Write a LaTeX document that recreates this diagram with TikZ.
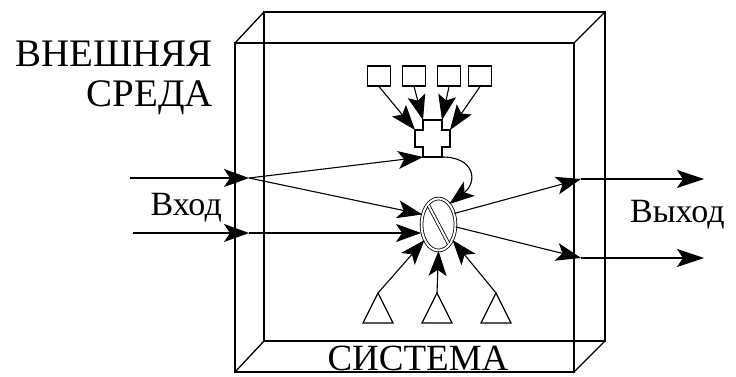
\documentclass[tikz,border=0pt]{standalone}
\usepackage{fontspec}
\setmainfont{Liberation Serif}
\usetikzlibrary{arrows.meta,shapes.geometric}
\begin{document}
\begin{tikzpicture}[x=1pt,y=-1pt,
  boxline/.style={line width=1.3pt},
  arr/.style={line width=1.1pt,-{Stealth[length=25pt,width=18pt,inset=6pt]}},
  longarr/.style={line width=1.1pt,-{Stealth[length=27pt,width=18pt,inset=6pt]}},
  bigarr/.style={line width=1.1pt,-{Stealth[length=25pt,width=18pt,inset=5pt]}},
  sq/.style={draw,line width=1.2pt,rectangle,minimum width=23pt,minimum height=20pt,inner sep=0pt},
  shp/.style={draw,line width=1.2pt},
  lbl/.style={inner sep=0pt}]
\useasboundingbox (0,0) rectangle (736,377);
% box
\coordinate (f1) at (235,43); \coordinate (f2) at (574,43);
\coordinate (f3) at (574,372); \coordinate (f4) at (235,372);
\coordinate (b1) at (264,12); \coordinate (b2) at (605,12);
\coordinate (b3) at (605,341); \coordinate (b4) at (264,341);
\draw[boxline] (f1) -- (f2) -- (f3) -- (f4) -- cycle;
\draw[boxline] (b1) -- (b2) -- (b3) -- (b4) -- cycle;
\draw[boxline] (f1) -- (b1) (f2) -- (b2) (f3) -- (b3) (f4) -- (b4);
% texts
\node[lbl,anchor=base east,font=\fontsize{39}{42}\selectfont] (env1) at (213,67) {ВНЕШНЯЯ};
\node[lbl,anchor=base east,font=\fontsize{39}{42}\selectfont] (env2) at (213,107) {СРЕДА};
\node[lbl,anchor=base,font=\fontsize{37}{40}\selectfont] (sys) at (418,370) {СИСТЕМА};
\node[lbl,anchor=base east,font=\fontsize{34}{38}\selectfont] (inl) at (222,215) {Вход};
\node[lbl,anchor=base west,font=\fontsize{34}{38}\selectfont] (outl) at (630,222) {Выход};
% process ellipse
\node[ellipse,draw,line width=0.8pt,double,double distance=2pt,minimum width=34pt,minimum height=52pt,inner sep=0pt] (proc) at (438.5,224.5) {};
\draw[line width=0.8pt,double,double distance=2pt] ([shift={(-10,-19)}]proc.center) -- ([shift={(10,19)}]proc.center);
% squares
\node[sq] (s1) at (379,76) {};
\node[sq] (s2) at (414,76) {};
\node[sq] (s3) at (449,76) {};
\node[sq] (s4) at (480,76) {};
% cross
\coordinate (cr) at (432.5,138.5);
\draw[shp] (423,120) -- (442,120) -- (442,130) -- (450,130) -- (450,147) -- (442,147) -- (442,157) -- (423,157) -- (423,147) -- (415,147) -- (415,130) -- (423,130) -- cycle;
\coordinate (c1) at (415,130);
\coordinate (c2) at (423,120);
\coordinate (c3) at (442,120);
\coordinate (c4) at (450,130);
\coordinate (cbl) at (423,157);
\coordinate (cbr) at (440,157);
\draw[bigarr] (s1.south) -- (c1);
\draw[bigarr] (s2.south) -- (c2);
\draw[bigarr] (s3.south) -- (c3);
\draw[bigarr] (s4.south) -- (c4);
% triangles
\coordinate (t1) at (378,293);
\coordinate (t2) at (437,293);
\coordinate (t3) at (496,293);
\foreach \t in {t1,t2,t3}{
  \draw[shp,line join=miter] (\t) -- ++(-15,30) -- ++(30,0) -- cycle;
}
\draw[arr] (t1) -- (proc.228);
\draw[arr] (t2) -- (proc.south);
\draw[arr] (t3) -- (proc.-48);
% inputs
\coordinate (in1s) at (130,178);
\coordinate (in1j) at (249,178);
\coordinate (in2s) at (133,233);
\coordinate (in2j) at (249,233);
\draw[arr] (in1s) -- (in1j);
\draw[arr] (in2s) -- (in2j);
\draw[arr] (in1j) -- (cbl);
\draw[arr] (in1j) -- (proc.148);
\draw[arr] (in2j) -- (in2j -| proc.west);
\draw[arr] (cbr) .. controls (475,156) and (478,182) .. (proc.62);
% outputs
\coordinate (o1j) at (581,179);
\coordinate (o1e) at (704,179);
\coordinate (o2j) at (581,258);
\coordinate (o2e) at (704,258);
\draw[arr] (proc.35) -- (o1j);
\draw[arr] (proc.-8) -- (o2j);
\draw[longarr] (o1j) -- (o1e);
\draw[longarr] (o2j) -- (o2e);
\end{tikzpicture}
\end{document}
